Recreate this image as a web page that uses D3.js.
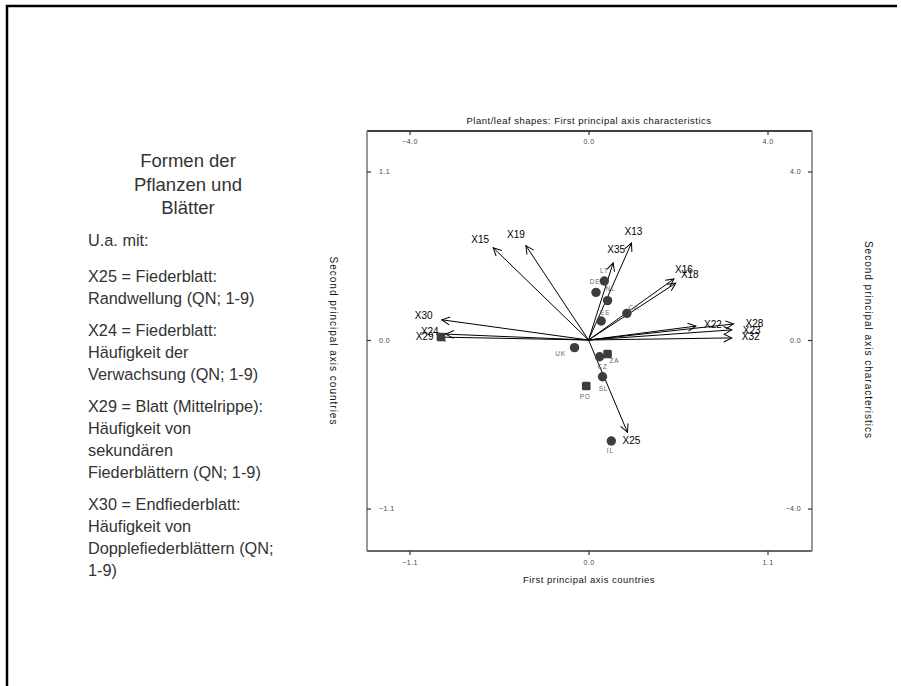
<!DOCTYPE html>
<html>
<head>
<meta charset="utf-8">
<script src="https://cdn.jsdelivr.net/npm/d3@7/dist/d3.min.js"></script>
<style>
  html, body { margin: 0; padding: 0; background: #fff; }
  svg { display: block; }
  text { font-family: Arial, "Liberation Sans", sans-serif; }
</style>
</head>
<body>
<svg id="chart" width="901" height="686"></svg>
<script>
// ---------------- data ----------------
const titleLines = ["Formen der", "Pflanzen und", "Blätter"];
const noteParagraphs = [
  ["U.a. mit:"],
  ["X25 = Fiederblatt:", "Randwellung (QN; 1-9)"],
  ["X24 = Fiederblatt:", "Häufigkeit der", "Verwachsung (QN; 1-9)"],
  ["X29 = Blatt (Mittelrippe):", "Häufigkeit von", "sekundären", "Fiederblättern (QN; 1-9)"],
  ["X30 = Endfiederblatt:", "Häufigkeit von", "Dopplefiederblättern (QN;", "1-9)"]
];

// countries (first/second principal axis, bottom/left scales)
const countries   = ["LT", "DE", "NL", "EE", "CA", "UK", "ZA", "CZ", "SL", "PO", "IL", ""];
const countryX    = [0.097, 0.046, 0.117, 0.078, 0.236, -0.086, 0.117, 0.068, 0.086, -0.014, 0.140, -0.907];
const countryY    = [0.385, 0.311, 0.257, 0.124, 0.174, -0.050, -0.091, -0.109, -0.240, -0.300, -0.659, 0.020];
const countryMark = ["circle", "circle", "circle", "circle", "circle", "circle", "square", "circle", "circle", "square", "circle", "square"];

// characteristics (vectors, top/right scales)
const traits = ["X15", "X19", "X13", "X35", "X16", "X18", "X22", "X28", "X23", "X32", "X30", "X24", "X29", "X25"];
const traitX = [-2.13, -1.40, 0.96, 0.55, 1.91, 1.95, 2.40, 3.24, 3.20, 3.20, -3.28, -3.19, -3.37, 0.87];
const traitY = [2.19, 2.24, 2.30, 1.83, 1.45, 1.35, 0.33, 0.38, 0.24, 0.05, 0.48, 0.14, 0.07, -2.19];

// tick labels
const countryTicks = [-1.1, 0.0, 1.1];
const traitTicks   = [-4.0, 0.0, 4.0];

// ---------------- layout ----------------
const countryLabelOffset = [[0,-11],[-1,-11],[3,-12],[4,-9],[7,-6],[-14,6],[7,7],[3,10],[1,12],[-1,11],[-1,10],[0,0]];
const traitLabelOffset = [[-13,-8],[-10,-11],[2,-12],[3,-13],[10,-9],[14,-9],[17,-2],[21,0],[20,1],[19,-1],[-18,-4],[-16,-3],[-13,-1],[4,8]];

const svg = d3.select("#chart");
const L = 367, R = 812, T = 131, B = 551;

// slide frame
svg.append("path")
  .attr("d", "M7,686 L7,6 L897,6")
  .attr("fill", "none").attr("stroke", "#000").attr("stroke-width", 2.5);

// left text block
const tb = svg.append("g").attr("fill", "#333");
titleLines.forEach((t, i) => {
  tb.append("text").attr("x", 188).attr("y", 167 + i * 23.5)
    .attr("text-anchor", "middle").attr("font-size", 18.5).text(t);
});
let yy = 246;
noteParagraphs.forEach((p, pi) => {
  if (pi === 1) yy = 282;
  p.forEach((line) => {
    tb.append("text").attr("x", 88).attr("y", yy).attr("font-size", 16.3).text(line);
    yy += 22;
  });
  yy += 10;
});

// scales
const x = d3.scaleLinear().domain([-1.3615, 1.3735]).range([L, R]);
const y = d3.scaleLinear().domain([-1.377, 1.364]).range([B, T]);
const k = 4 / 1.1;
const xt = d3.scaleLinear().domain(x.domain().map(d => d * k)).range([L, R]);
const yt = d3.scaleLinear().domain(y.domain().map(d => d * k)).range([B, T]);

// frame
svg.append("line").attr("x1", L).attr("x2", R).attr("y1", T).attr("y2", T).attr("stroke", "#000").attr("stroke-width", 1.5);
svg.append("line").attr("x1", L).attr("x2", R).attr("y1", B).attr("y2", B).attr("stroke", "#333").attr("stroke-width", 1.5);
svg.append("line").attr("x1", L).attr("x2", L).attr("y1", T).attr("y2", B).attr("stroke", "#777").attr("stroke-width", 1.5);
svg.append("line").attr("x1", R).attr("x2", R).attr("y1", T).attr("y2", B).attr("stroke", "#777").attr("stroke-width", 1.5);

const fmt = d3.format(".1f");
function styleAxis(g) {
  g.select(".domain").remove();
  g.selectAll(".tick line").attr("stroke", "#333").attr("stroke-width", 1.2);
  g.selectAll(".tick text").attr("fill", "#444").attr("font-size", 7).attr("letter-spacing", 0.4)
    .attr("font-family", "Arial, 'Liberation Sans', sans-serif");
}
svg.append("g").attr("transform", `translate(0,${B})`)
  .call(d3.axisBottom(x).tickValues(countryTicks).tickFormat(fmt).tickSize(4).tickPadding(5.5))
  .call(styleAxis);
svg.append("g").attr("transform", `translate(${L},0)`)
  .call(d3.axisRight(y).tickValues(countryTicks).tickFormat(fmt).tickSize(4).tickPadding(8))
  .call(styleAxis);
svg.append("g").attr("transform", `translate(0,${T})`)
  .call(d3.axisBottom(xt).tickValues(traitTicks).tickFormat(fmt).tickSize(4).tickPadding(4.5))
  .call(styleAxis);
svg.append("g").attr("transform", `translate(${R},0)`)
  .call(d3.axisLeft(yt).tickValues(traitTicks).tickFormat(fmt).tickSize(4).tickPadding(7))
  .call(styleAxis);

// axis titles
svg.append("text").attr("x", 589).attr("y", 124).attr("text-anchor", "middle")
  .attr("font-size", 9.5).attr("letter-spacing", 0.5).attr("fill", "#111")
  .text("Plant/leaf shapes: First principal axis characteristics");
svg.append("text").attr("x", 589).attr("y", 583).attr("text-anchor", "middle")
  .attr("font-size", 9.5).attr("letter-spacing", 0.5).attr("fill", "#111")
  .text("First principal axis countries");
svg.append("text").attr("transform", "translate(330,341) rotate(90)").attr("text-anchor", "middle")
  .attr("font-size", 10).attr("letter-spacing", 1).attr("fill", "#111")
  .text("Second principal axis countries");
svg.append("text").attr("transform", "translate(865,340) rotate(90)").attr("text-anchor", "middle")
  .attr("font-size", 10).attr("letter-spacing", 1).attr("fill", "#111")
  .text("Second principal axis characteristics");

// arrow marker
svg.append("defs").append("marker")
  .attr("id", "arr").attr("markerUnits", "userSpaceOnUse")
  .attr("markerWidth", 20).attr("markerHeight", 20)
  .attr("refX", 0).attr("refY", 0).attr("viewBox", "-10 -10 20 20")
  .attr("orient", "auto")
  .append("path").attr("d", "M-8,-4 L0,0 L-8,4")
  .attr("fill", "none").attr("stroke", "#000").attr("stroke-width", 1);

// vectors
const vg = svg.append("g");
traits.forEach((t, i) => {
  vg.append("line")
    .attr("x1", xt(0)).attr("y1", yt(0))
    .attr("x2", xt(traitX[i])).attr("y2", yt(traitY[i]))
    .attr("stroke", "#000").attr("stroke-width", 1)
    .attr("marker-end", "url(#arr)");
});

// countries
const cg = svg.append("g");
countries.forEach((c, i) => {
  const px = x(countryX[i]), py = y(countryY[i]);
  if (countryMark[i] === "circle") {
    cg.append("circle").attr("cx", px).attr("cy", py).attr("r", 4.7).attr("fill", "#3d3d3d");
  } else {
    cg.append("rect").attr("x", px - 4.3).attr("y", py - 4.3).attr("width", 8.6).attr("height", 8.6)
      .attr("rx", 1.5).attr("fill", "#3d3d3d");
  }
  if (c) {
    cg.append("text").attr("x", px + countryLabelOffset[i][0]).attr("y", py + countryLabelOffset[i][1])
      .attr("text-anchor", "middle").attr("dominant-baseline", "central")
      .attr("font-size", 6.5).attr("fill", "#666").attr("letter-spacing", 0.8).text(c);
  }
});

// vector labels
traits.forEach((t, i) => {
  vg.append("text")
    .attr("x", xt(traitX[i]) + traitLabelOffset[i][0])
    .attr("y", yt(traitY[i]) + traitLabelOffset[i][1])
    .attr("text-anchor", "middle").attr("dominant-baseline", "central")
    .attr("font-size", 10).attr("fill", "#000").text(t);
});
</script>
</body>
</html>
